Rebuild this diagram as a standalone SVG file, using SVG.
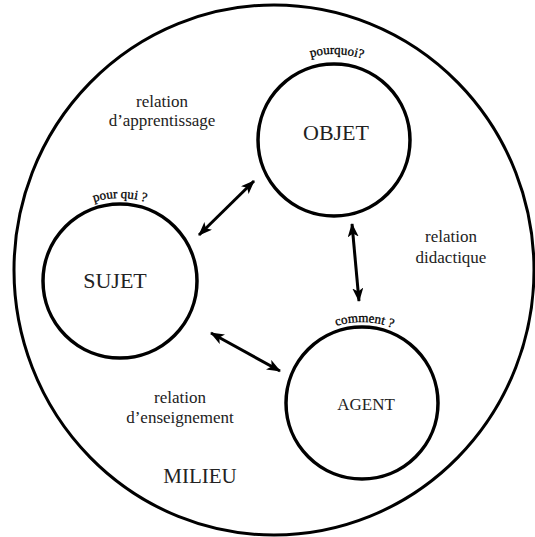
<svg xmlns="http://www.w3.org/2000/svg" width="535" height="537" viewBox="0 0 535 537">
<style>
.c{fill:none;stroke:#000;stroke-width:3.5}
.t{font-family:"Liberation Serif","Times New Roman",serif;fill:#222;text-anchor:middle}
.lab{font-size:17px}
.q{font-family:"Liberation Serif","Times New Roman",serif;font-size:13px;fill:#000;stroke:#000;stroke-width:0.3}
.a{stroke:#000;stroke-width:3;fill:none}
</style>
<defs>
<marker id="ah" viewBox="0 0 14 11" refX="13" refY="5.5" markerWidth="14" markerHeight="11" markerUnits="userSpaceOnUse" orient="auto-start-reverse">
<path d="M0,0 L14,5.5 L0,11 L3.5,5.5 Z" fill="#000"/>
</marker>
<path id="arcO" d="M248,140 A86,86 0 0 1 420,140"/>
<path id="arcS" d="M37,281 A83,83 0 0 1 203,281"/>
<path id="arcA" d="M281,403 A81,81 0 0 1 443,403"/>
</defs>
<g id="milieu">
<ellipse cx="274" cy="270" rx="260" ry="265" fill="#fff" stroke="#000" stroke-width="3"/>
<text class="t" x="200" y="483" font-size="21">MILIEU</text>
</g>
<g id="connectors">
<line class="a" x1="254" y1="181" x2="199" y2="235" marker-start="url(#ah)" marker-end="url(#ah)"/>
<line class="a" x1="352" y1="224" x2="359" y2="301" marker-start="url(#ah)" marker-end="url(#ah)"/>
<line class="a" x1="211" y1="333" x2="280" y2="371" marker-start="url(#ah)" marker-end="url(#ah)"/>
</g>
<g id="objet">
<circle class="c" cx="334" cy="140" r="76"/>
<text class="t" x="336" y="140" font-size="22">OBJET</text>
<text class="q"><textPath href="#arcO" startOffset="51%" text-anchor="middle">pourquoi?</textPath></text>
</g>
<g id="sujet">
<circle class="c" cx="120" cy="281" r="77"/>
<text class="t" x="115" y="288" font-size="22">SUJET</text>
<text class="q"><textPath href="#arcS" startOffset="50%" text-anchor="middle">pour qui ?</textPath></text>
</g>
<g id="agent">
<circle class="c" cx="362" cy="403" r="76"/>
<text class="t" x="366" y="410" font-size="17">AGENT</text>
<text class="q"><textPath href="#arcA" startOffset="51%" text-anchor="middle">comment ?</textPath></text>
</g>
<g id="labels">
<text class="t lab" x="162" y="107">relation</text>
<text class="t lab" x="162" y="126">d’apprentissage</text>
<text class="t lab" x="451" y="242">relation</text>
<text class="t lab" x="451" y="263">didactique</text>
<text class="t lab" x="180" y="403">relation</text>
<text class="t lab" x="180" y="423">d’enseignement</text>
</g>
</svg>
